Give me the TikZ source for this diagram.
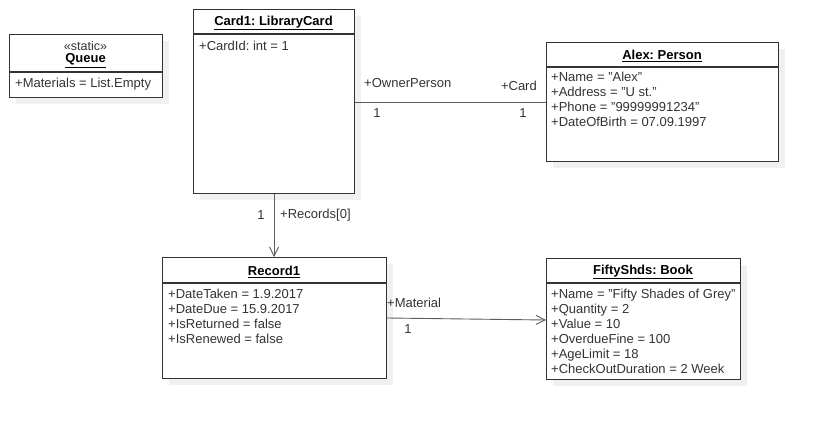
\documentclass[tikz,border=0pt]{standalone}
\usepackage{fontspec}
\setmainfont{Liberation Sans}
\usetikzlibrary{arrows.meta,shadows}
\frenchspacing

\definecolor{umlline}{HTML}{333333}
\definecolor{umlshade}{HTML}{F0F0F0}

\tikzset{
  umlbox/.style={draw=umlline, line width=1.2pt, fill=white, anchor=north west,
    inner sep=0pt, drop shadow={shadow xshift=6pt, shadow yshift=-6pt, fill=umlshade, opacity=1}},
  umltitle/.style={font=\fontsize{13}{15}\selectfont\bfseries, text=black, inner sep=0pt},
  umlstereo/.style={font=\fontsize{12.5}{14}\selectfont, text=umlline, inner sep=0pt},
  umlattr/.style={font=\fontsize{13}{15}\selectfont, text=umlline, align=left, anchor=north west, inner sep=0pt},
  assoc/.style={draw=umlline!80, line width=0.9pt},
  navig/.style={assoc, -{Straight Barb[length=9pt,width=9pt,line width=0.9pt]}},
  role/.style={font=\fontsize{13}{15}\selectfont, text=umlline, inner sep=0pt}
}

\begin{document}
\begin{tikzpicture}[x=1pt,y=-1pt]
\useasboundingbox (0,0) rectangle (818,420);

	% Queue
	\node[umlbox, minimum width=153pt, minimum height=63pt] (queue) at (9,34) {};
	\draw[umlline, line width=1.2pt] (queue.west |- 0,72) -- (queue.east |- 0,72);
	\node[umlstereo] (queuestereo) at (85.5,46) {«static»};
	\node[umltitle] (queuetitle) at (85.5,60.5) {\underline{Queue}};
	\node[umlattr] (queueattr) at (15,78) {+Materials = List.Empty};

	% Card1
	\node[umlbox, minimum width=161pt, minimum height=184pt] (card) at (193,9) {};
	\draw[umlline, line width=1.2pt] (card.west |- 0,34) -- (card.east |- 0,34);
	\node[umltitle] (cardtitle) at (273.5,23) {\underline{Card1: LibraryCard}};
	\node[umlattr] (cardattr) at (199,41) {+CardId: int = 1};

	% Alex
	\node[umlbox, minimum width=232pt, minimum height=119pt] (alex) at (546,42) {};
	\draw[umlline, line width=1.2pt] (alex.west |- 0,67) -- (alex.east |- 0,67);
	\node[umltitle] (alextitle) at (662,56) {\underline{Alex: Person}};
	\node[umlattr] (alexattr) at (551,72) {+Name = "Alex"\\+Address = "U st."\\+Phone = "99999991234"\\+DateOfBirth = 07.09.1997};

	% Record1
	\node[umlbox, minimum width=224pt, minimum height=121pt] (record) at (162,257) {};
	\draw[umlline, line width=1.2pt] (record.west |- 0,283) -- (record.east |- 0,283);
	\node[umltitle] (recordtitle) at (274,272) {\underline{Record1}};
	\node[umlattr] (recordattr) at (168,289) {+DateTaken = 1.9.2017\\+DateDue = 15.9.2017\\+IsReturned = false\\+IsRenewed = false};

	% FiftyShds
	\node[umlbox, minimum width=194pt, minimum height=121pt] (book) at (546,258) {};
	\draw[umlline, line width=1.2pt] (book.west |- 0,283) -- (book.east |- 0,283);
	\node[umltitle] (booktitle) at (643,272) {\underline{FiftyShds: Book}};
	\node[umlattr] (bookattr) at (551,289) {+Name = "Fifty Shades of Grey"\\+Quantity = 2\\+Value = 10\\+OverdueFine = 100\\+AgeLimit = 18\\+CheckOutDuration = 2 Week};

	% links
	\draw[assoc] (card.east |- 0,102) -- (alex.west |- 0,102);
	\draw[navig] (card.south -| 274,0) -- (record.north -| 274,0);
	\draw[navig] (record.east |- 0,318) -- (book.west |- 0,320);

	% roles
	\node[role, anchor=west] (ownerrole) at (364,83) {+OwnerPerson};
	\node[role] (ownermult) at (377,113) {1};
	\node[role, anchor=east] (cardrole) at (537,86) {+Card};
	\node[role] (cardmult) at (523,113) {1};
	\node[role] (recmult) at (261,215) {1};
	\node[role, anchor=west] (recrole) at (280,215) {+Records[0]};
	\node[role, anchor=west] (matrole) at (387,303) {+Material};
	\node[role] (matmult) at (408,329) {1};
\end{tikzpicture}
\end{document}
